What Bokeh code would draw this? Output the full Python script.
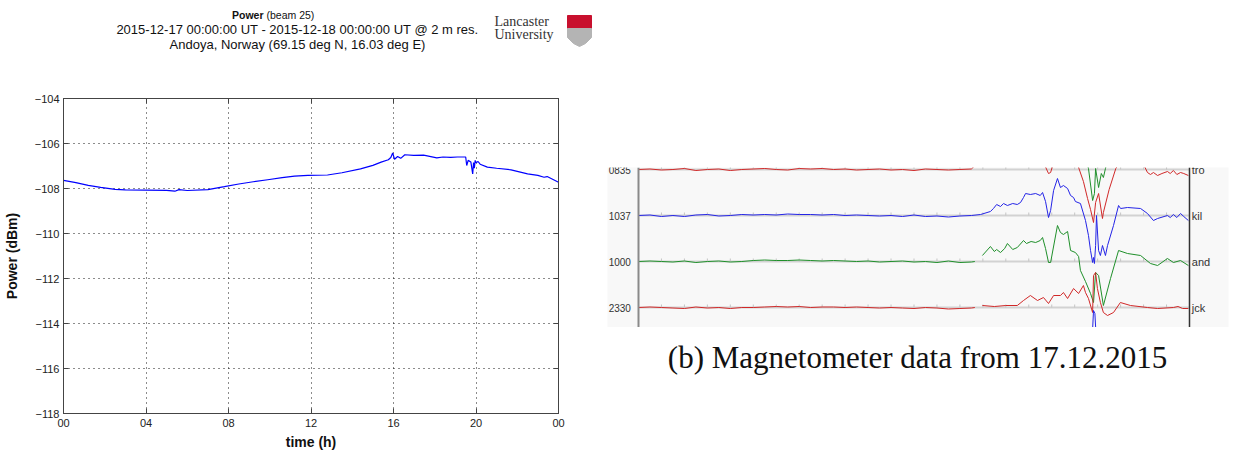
import numpy as np
from bokeh.plotting import figure
from bokeh.models import Range1d, LinearAxis, FixedTicker
from bokeh.layouts import row, column
from bokeh.embed import file_html
from bokeh.resources import INLINE
from bokeh.core.properties import value

# ---------------- data: left panel (received power, beam 25) ----------------
power_hours = [0, 0.6, 1.2, 1.8, 2.5, 3.0, 4.0, 5.0, 5.4, 5.6, 6.0, 7.0, 7.8, 8.5, 9.2, 9.9,
               10.6, 11.2, 11.85, 12.8, 13.5, 14.4, 15.0, 15.4, 15.75, 15.87, 15.96, 16.05,
               16.2, 16.35, 16.55, 16.98, 17.46, 18.1, 18.4, 18.77, 19.1, 19.5, 19.55, 19.62,
               19.75, 19.84, 19.88, 19.92, 19.96, 20.0, 20.1, 20.2, 20.55, 21.0, 21.7, 22.5,
               23.0, 23.3, 23.45, 24.0]
power_dbm = [-107.64, -107.74, -107.86, -107.95, -108.04, -108.06, -108.07, -108.08, -108.12,
             -108.05, -108.09, -108.05, -107.92, -107.80, -107.70, -107.61, -107.52, -107.45,
             -107.42, -107.40, -107.30, -107.13, -106.97, -106.83, -106.72, -106.62, -106.42,
             -106.70, -106.58, -106.66, -106.50, -106.53, -106.52, -106.64, -106.60, -106.62,
             -106.60, -106.60, -106.98, -106.75, -106.82, -107.35, -106.85, -107.10, -106.75,
             -106.85, -106.80, -106.92, -107.05, -107.10, -107.17, -107.35, -107.42, -107.50,
             -107.47, -107.72]
x_ticks = [0, 4, 8, 12, 16, 20, 24]
x_tick_labels = ["00", "04", "08", "12", "16", "20", "00"]
y_ticks = [-118, -116, -114, -112, -110, -108, -106, -104]

# ---------------- data: right panel (magnetometer stack plot) ----------------
quiet_hours = [0, 0.5, 1, 1.5, 2, 2.5, 3, 3.5, 4, 4.5, 5, 5.5, 6, 6.5, 7, 7.5, 8, 8.5, 9, 9.5,
               10, 10.5, 11, 11.5, 12, 12.5, 13, 13.5, 14, 14.5]
tro_quiet = [0, 0.5, -0.5, 0, 1, -1, 0, 0.5, -1, 0, 0.5, 1, 0, -0.5, 1, 0.5, 1, 0, 0.5, -0.5,
             0, 0.5, -0.5, 0, -1, 0.5, 0, -0.5, 0, 0.5]
kil_quiet = [0, 0.5, -1, 0, -1, 0.5, 1, -0.5, 0, 1, 0.5, 1, 0.5, 1.5, 1, 1, 0.5, 1, 0, 0.5,
             0, -0.5, 0, -1, 0.5, -1, -0.5, -1.5, -0.5, 0]
and_quiet = [0, 0.5, 0, -0.5, 0.5, -1, 0, 0.5, -0.5, 0, 1, 1.5, 1, 1, 1.5, 1, 0.5, 1, 0.5, 0,
             0.5, -0.5, 0, 0.5, -0.5, 0, -1, 0.5, -1, -0.5]
jck_quiet = [0, 0.5, 0, -0.5, -1, 0.5, -0.5, 0, -1, 0, 0, 0.5, 1, 0.5, 1, 0, 0.5, 0.5, 0, 0.5,
             0, -0.5, 0, -0.5, -1, 0, -0.5, -1.5, -1, -0.5]

tro_hours = [14.7, 14.9, 15.5, 16.5, 17.5, 17.7, 17.86, 17.95, 18.03, 18.2, 18.8, 19.17, 19.38,
             19.56, 19.69, 19.82, 19.91, 20.04, 20.21, 20.25, 20.5, 20.79, 21.0, 21.5, 22.0,
             22.17, 22.3, 22.43, 22.61, 22.8, 23.04, 23.16, 23.3, 23.45, 23.61, 23.75, 23.95]
tro_vals = [5, 8, 12, 15, 10, 4, -4, -3, 3, 10, 12, 2, -12, -29, -40, -53, -33, -24, -49, -43,
            -20, 1, 8, 10, 5, -3, -5, -3, -6, -4, -2, -4, -1, -5, -3, -4, -6]

kil_hours = [14.9, 15.33, 15.46, 15.6, 15.77, 15.9, 16.07, 16.3, 16.5, 16.64, 16.77, 16.86,
             17.07, 17.3, 17.5, 17.6, 17.73, 17.86, 17.95, 18.08, 18.25, 18.38, 18.51, 18.69,
             18.82, 18.95, 19.03, 19.25, 19.47, 19.6, 19.69, 19.78, 19.82, 19.86, 19.91, 19.95,
             20.04, 20.12, 20.21, 20.34, 20.43, 20.69, 20.91, 21.0, 21.3, 21.87, 22.17, 22.43,
             22.61, 23.04, 23.16, 23.3, 23.45, 23.61, 23.75, 23.95]
kil_vals = [1, 4, 7, 11, 9, 12, 10, 12, 11, 13, 18, 22, 21, 22, 20, 23, 14, -2, 5, 25, 37, 28,
            30, 27, 20, 18, 14, 12, -5, -20, -35, -47, -42, -48, -30, 0, -35, -40, -30, -40,
            -30, -10, 10, 7, 8, 7, 2, -5, -3, 0, -2, 1, -2, 2, -1, -5]

and_hours = [14.65, 14.8, 14.98, 15.33, 15.5, 15.6, 15.77, 15.95, 16.07, 16.3, 16.5, 16.77,
             16.9, 17.1, 17.3, 17.5, 17.6, 17.73, 17.86, 17.95, 18.25, 18.38, 18.51, 18.69,
             18.82, 19.03, 19.17, 19.25, 19.47, 19.69, 19.82, 19.91, 20.04, 20.25, 20.56,
             20.91, 21.3, 21.87, 22.3, 22.61, 23.04, 23.3, 23.61, 23.95]
and_vals = [0, np.nan, 6, 15, 10, 12, 9, 13, 18, 12, 14, 21, 18, 20, 19, 21, 24, 13, -1, -1,
            36, 29, 27, 30, 11, 9, 5, -9, -20, -32, -41, -11, -14, -44, -17, 11, 8, 6, -2, -4,
            3, -1, 1, -4]

jck_hours = [14.65, 14.8, 14.98, 15.5, 16.0, 16.5, 16.77, 17.07, 17.38, 17.64, 17.86, 18.08,
             18.38, 18.51, 18.69, 18.95, 19.17, 19.38, 19.47, 19.6, 19.78, 19.82, 19.91, 19.99,
             20.12, 20.25, 20.43, 20.69, 20.99, 21.43, 22.17, 22.61, 23.3, 23.5, 23.7, 23.95]
jck_vals = [0, np.nan, 2, 1, 2, 2, 7, 12, 7, 10, 4, 12, 12, 15, 9, 19, 14, 22, 15, 9, -5, 32,
            35, 19, 5, -5, -8, -5, 5, 2, 0, -1, 0, 1, -1, -1]

# neighbouring stations, only partly inside the crop
above_hours = [19.3, 19.6, 19.78, 19.86, 19.91, 20.04, 20.16, 20.25, 20.34, 20.6]
above_vals = [-20, -45, -77, -70, -45, -64, -50, -54, -45, -20]
below_hours = [19.6, 19.75, 19.82, 19.88, 19.95, 20.1]
below_vals = [0, 10, 43, 40, 10, 0]

station_codes = ["tro", "kil", "and", "jck"]
station_left = ["0835", "1037", "1000", "2330"]
mag_hours = list(range(25))

# ---------------- styling constants ----------------
SANS = value("Liberation Sans")
SERIF = value("Liberation Serif")
RED, BLUE, GREEN = "#d02828", "#2424e6", "#1f8f2a"
SPACING = 46  # vertical offset between station traces

# ---------------- title / header figure ----------------
tf = figure(width=600, height=60, x_range=Range1d(0, 600), y_range=Range1d(60, 0),
            output_backend="svg", toolbar_location=None, x_axis_type=None, y_axis_type=None,
            min_border_left=0, min_border_right=0, min_border_top=0, min_border_bottom=0,
            outline_line_color=None)
tf.frame_align = False
tf.text(x=[263], y=[14], text=["Power"], text_font=SANS, text_font_style="bold",
        text_font_size="10.5px", text_align="right", text_baseline="middle", text_color="#111")
tf.text(x=[266], y=[14], text=["(beam 25)"], text_font=SANS, text_font_size="10.5px",
        text_align="left", text_baseline="middle", text_color="#111")
tf.text(x=[297], y=[29], text=["2015-12-17 00:00:00 UT - 2015-12-18 00:00:00 UT @ 2 m res."],
        text_font=SANS, text_font_size="13px", text_align="center", text_baseline="middle",
        text_color="#111")
tf.text(x=[297], y=[44], text=["Andoya, Norway (69.15 deg N, 16.03 deg E)"],
        text_font=SANS, text_font_size="13px", text_align="center", text_baseline="middle",
        text_color="#111")
tf.text(x=[494, 494], y=[21, 34], text=["Lancaster", "University"], text_font=SERIF,
        text_font_size="14px", text_align="left", text_baseline="middle", text_color="#333")
tf.quad(left=[567], right=[591], top=[15], bottom=[28], color="#c8102e")
tf.patch(x=[567, 591, 591, 585, 579, 573, 567], y=[28, 28, 37, 43, 46, 43, 37],
         color="#b4b4b4")

# ---------------- power figure ----------------
pf = figure(width=600, height=392, x_range=Range1d(0, 24), y_range=Range1d(-118, -104),
            output_backend="svg", toolbar_location=None, min_border_left=62,
            min_border_right=42, min_border_top=38, min_border_bottom=39,
            outline_line_color="#444")
pf.line(power_hours, power_dbm, color="#0000ff", line_width=1.2)

pf.xaxis.ticker = FixedTicker(ticks=x_ticks)
pf.xaxis.major_label_overrides = {t: l for t, l in zip(x_ticks, x_tick_labels)}
pf.yaxis.ticker = FixedTicker(ticks=y_ticks)
pf.xaxis.axis_label = "time (h)"
pf.yaxis.axis_label = "Power (dBm)"
for ax in (pf.xaxis[0], pf.yaxis[0]):
    ax.axis_label_text_font = "Liberation Sans"
    ax.axis_label_text_font_style = "bold"
    ax.axis_label_text_font_size = "14px"
    ax.axis_label_text_color = "#111"
    ax.major_label_text_font = "Liberation Sans"
    ax.major_label_text_font_size = "11px"
    ax.major_label_text_color = "#222"
    ax.major_tick_in = 5
    ax.major_tick_out = 0
    ax.minor_tick_line_color = None
    ax.axis_line_color = "#444"
    ax.major_tick_line_color = "#444"
pf.yaxis.major_label_standoff = 4
pf.yaxis.axis_label_standoff = 12
pf.xaxis.major_label_standoff = 5
pf.xaxis.axis_label_standoff = 4

for loc, ticks in (("right", y_ticks), ("above", x_ticks)):
    ax = LinearAxis(ticker=FixedTicker(ticks=ticks), major_tick_in=5, major_tick_out=0,
                    minor_tick_line_color=None, major_label_text_color=None,
                    major_label_text_font_size="1px", axis_line_color="#444",
                    major_tick_line_color="#444")
    pf.add_layout(ax, loc)

pf.xgrid.ticker = FixedTicker(ticks=x_ticks)
pf.ygrid.ticker = FixedTicker(ticks=y_ticks)
pf.grid.grid_line_color = "#000"
pf.grid.grid_line_dash = "1 4"
pf.grid.grid_line_width = 1
pf.grid.grid_line_alpha = 0.9

# ---------------- magnetometer figure ----------------
mf = figure(width=639, height=327, x_range=Range1d(-1.350, 25.699), y_range=Range1d(-20, 140),
            output_backend="svg", toolbar_location=None, x_axis_type=None, y_axis_type=None,
            min_border_left=7, min_border_right=11, min_border_top=167, min_border_bottom=0,
            background_fill_color="#f8f8f8", outline_line_color=None)

levels = [3 * SPACING, 2 * SPACING, 1 * SPACING, 0]
mf.segment(x0=[0] * 4, x1=[24] * 4, y0=levels, y1=levels, color="#d2d2d2", line_width=2)
tx, ty0, ty1 = [], [], []
for lv in levels:
    for h in mag_hours[1:-1]:
        tx.append(h)
        ty0.append(lv)
        ty1.append(lv + 3)
mf.segment(x0=tx, x1=tx, y0=ty0, y1=ty1, color="#c4c4c4", line_width=1)

series = [
    (quiet_hours + tro_hours, tro_quiet + tro_vals, levels[0], RED),
    (quiet_hours + kil_hours, kil_quiet + kil_vals, levels[1], BLUE),
    (quiet_hours + and_hours, and_quiet + and_vals, levels[2], GREEN),
    (quiet_hours + jck_hours, jck_quiet + jck_vals, levels[3], RED),
    (above_hours, above_vals, 4 * SPACING, GREEN),
    (below_hours, below_vals, -1 * SPACING, BLUE),
]
for hrs, vals, lv, col in series:
    mf.line(np.array(hrs, dtype=float), np.array(vals, dtype=float) + lv, color=col,
            line_width=1)

mf.segment(x0=[0], x1=[0], y0=[-20], y1=[140], color="#8a8a8a", line_width=2)
mf.segment(x0=[24], x1=[24], y0=[-20], y1=[140], color="#333333", line_width=1.5)

mf.text(x=[-1.3] * 4, y=levels, text=station_left, text_font=SANS, text_font_size="10px",
        text_align="left", text_baseline="middle", text_color="#333")
mf.text(x=[24.1] * 4, y=levels, text=station_codes, text_font=SANS, text_font_size="11px",
        text_align="left", text_baseline="middle", text_color="#333")

# ---------------- caption figure ----------------
cf = figure(width=639, height=125, x_range=Range1d(600, 1239), y_range=Range1d(452, 327),
            output_backend="svg", toolbar_location=None, x_axis_type=None, y_axis_type=None,
            min_border_left=0, min_border_right=0, min_border_top=0, min_border_bottom=0,
            outline_line_color=None)
cf.frame_align = False
cf.text(x=[917], y=[357], text=["(b) Magnetometer data from 17.12.2015"], text_font=SERIF,
        text_font_size="31px", text_align="center", text_baseline="middle", text_color="#111")

layout = row(column(tf, pf, spacing=0), column(mf, cf, spacing=0), spacing=0)
open("out.html", "w").write(file_html(layout, INLINE))
